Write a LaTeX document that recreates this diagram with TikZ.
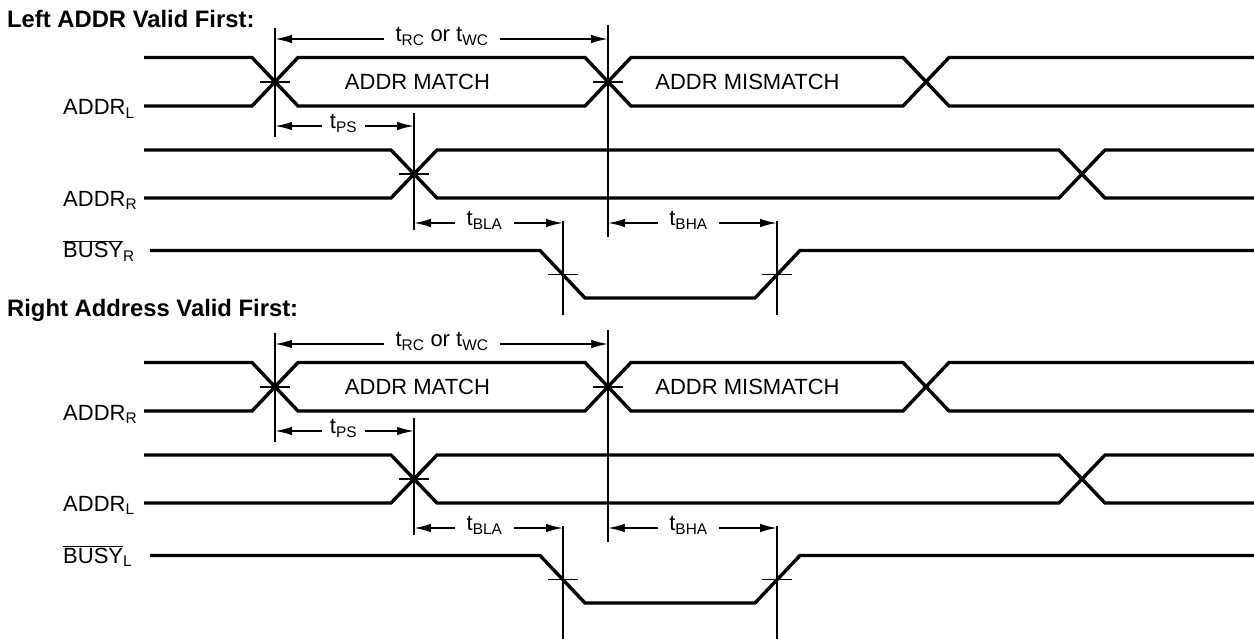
\documentclass[tikz,border=0pt]{standalone}
\usepackage{fontspec}
\setmainfont{Liberation Sans}
\usetikzlibrary{arrows.meta}

\tikzset{
  sig/.style={line width=3.4pt},
  guide/.style={line width=1.7pt},
  dim/.style={line width=1.7pt, -{Latex[length=17pt,width=8.5pt]}},
  lbl/.style={inner sep=0pt, anchor=base west},
  tm/.style={anchor=mid, inner xsep=11pt, inner ysep=0pt},
  heading/.style={inner sep=0pt, anchor=base west, font=\fontsize{23.8}{27}\selectfont\bfseries},
}

\begin{document}
\begin{tikzpicture}[x=1pt, y=-1pt, font=\fontsize{22}{26}\selectfont]
  \useasboundingbox (0,0) rectangle (1254,639);
  \foreach \dy/\ty/\sa/\sb/\yb/\ttl [count=\n] in
      {0/28/L/R/315/{Left ADDR Valid First:}, 305/11.7/R/L/334/{Right Address Valid First:}} {
    \begin{scope}[shift={(0,\dy)}]
      \node[heading] (ttl\n) at (7,\ty) {\ttl};
      % address buses and busy line
      \draw[sig] (144,57.5) -- (252,57.5) -- (298,106) -- (585,106) -- (631,57.5) -- (903,57.5) -- (949,106) -- (1254,106);
      \draw[sig] (144,106) -- (252,106) -- (298,57.5) -- (585,57.5) -- (631,106) -- (903,106) -- (949,57.5) -- (1254,57.5);
      \draw[sig] (144,150) -- (391,150) -- (437,198) -- (1059,198) -- (1105,150) -- (1254,150);
      \draw[sig] (144,198) -- (391,198) -- (437,150) -- (1059,150) -- (1105,198) -- (1254,198);
      \draw[sig] (150,250.5) -- (540,250.5) -- (585,298) -- (755,298) -- (800,250.5) -- (1254,250.5);
      \node[lbl] (la\n) at (63,115) {ADDR\textsubscript{\sa}};
      \node[lbl] (lb\n) at (63,206.5) {ADDR\textsubscript{\sb}};
      \node[lbl] (lc\n) at (63,258) {$\overline{\hbox{BUSY}}$\textsubscript{\sb}};
      \node (match\n) at (417.5,81.75) {ADDR MATCH};
      \node (mism\n) at (747.5,81.75) {ADDR MISMATCH};
      % crossing points
      \coordinate (cA\n) at (275,81.75);
      \coordinate (cB\n) at (608,81.75);
      \coordinate (cC\n) at (414,174);
      \coordinate (cD\n) at (563,274.5);
      \coordinate (cE\n) at (777,274.5);
      \draw[guide] (275,28) -- (275,137);
      \draw[guide] (608,25) -- (608,237);
      \draw[guide] (414,113) -- (414,230);
      \draw[guide] (563,221) -- (563,\yb);
      \draw[guide] (777,221) -- (777,\yb);
      \foreach \c in {cA,cB,cC,cD,cE}
        \draw[guide] ([xshift=-15pt]\c\n) -- ([xshift=15pt]\c\n);
      % timing arrows
      \node[tm] (trc\n) at (442,39) {t\textsubscript{RC} or t\textsubscript{WC}};
      \node[tm, inner xsep=8pt] (tps\n) at (343.5,126) {t\textsubscript{PS}};
      \node[tm] (tbla\n) at (484.5,223) {t\textsubscript{BLA}};
      \node[tm] (tbha\n) at (688.5,223) {t\textsubscript{BHA}};
      \coordinate (a1\n) at (275,39);
      \coordinate (a2\n) at (608,39);
      \coordinate (p1\n) at (275,126);
      \coordinate (p2\n) at (414,126);
      \coordinate (b1\n) at (414,223);
      \coordinate (b2\n) at (563,223);
      \coordinate (h1\n) at (608,223);
      \coordinate (h2\n) at (777,223);
      \draw[dim] (trc\n.mid west) -- (a1\n);
      \draw[dim] (trc\n.mid east) -- (a2\n);
      \draw[dim] (tps\n.mid west) -- (p1\n);
      \draw[dim] (tps\n.mid east) -- (p2\n);
      \draw[dim] (tbla\n.mid west) -- (b1\n);
      \draw[dim] (tbla\n.mid east) -- (b2\n);
      \draw[dim] (tbha\n.mid west) -- (h1\n);
      \draw[dim] (tbha\n.mid east) -- (h2\n);
    \end{scope}
  }
\end{tikzpicture}
\end{document}
